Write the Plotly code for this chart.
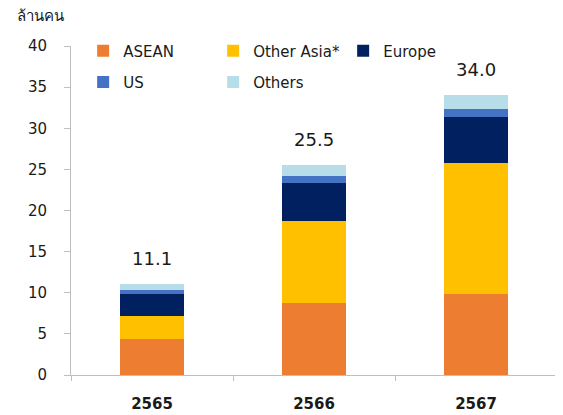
import plotly.graph_objects as go

# Thai-year categories (Buddhist Era)
years = ["2565", "2566", "2567"]

# million visitors by region
asean = [4.4, 8.8, 9.8]
other_asia = [2.8, 9.9, 16.0]
europe = [2.6, 4.6, 5.6]
us = [0.5, 0.85, 0.95]
others = [0.8, 1.35, 1.65]

totals = [11.1, 25.5, 34.0]
total_labels = ["11.1", "25.5", "34.0"]

series = [
    ("ASEAN", asean, "#ED7D31", "legend"),
    ("Other Asia*", other_asia, "#FFC000", "legend"),
    ("Europe", europe, "#002060", "legend"),
    ("US", us, "#4472C4", "legend2"),
    ("Others", others, "#B7DEE8", "legend2"),
]

font_main = "Tahoma, DejaVu Sans, Noto Sans, sans-serif"

fig = go.Figure()
for name, vals, color, leg in series:
    fig.add_trace(
        go.Bar(
            x=years,
            y=vals,
            name=name,
            marker=dict(color=color, line=dict(width=0)),
            legend=leg,
        )
    )

legend_common = dict(
    orientation="h",
    xanchor="left",
    yanchor="middle",
    entrywidth=85,
    bgcolor="rgba(0,0,0,0)",
    font=dict(size=15, color="#1a1a1a", family=font_main),
    traceorder="normal",
)

# page body adds an 8px offset, so margins are set with that in mind
fig.update_layout(
    width=563,
    height=415,
    barmode="stack",
    bargap=0.6,
    plot_bgcolor="white",
    paper_bgcolor="white",
    margin=dict(l=63, r=14, t=38, b=48, autoexpand=False),
    font=dict(family=font_main, color="#1a1a1a"),
    legend=dict(x=0.025, y=0.985, **legend_common),
    legend2=dict(x=0.025, y=0.89, **legend_common),
    xaxis=dict(
        type="category",
        showline=True,
        linecolor="#BFBFBF",
        ticks="outside",
        tickson="boundaries",
        tickcolor="#BFBFBF",
        ticklen=5,
        tickfont=dict(size=15, color="#1a1a1a", weight="bold"),
        ticklabelstandoff=15,
        showgrid=False,
        automargin=False,
    ),
    yaxis=dict(
        range=[0, 40],
        dtick=5,
        showline=True,
        linecolor="#BFBFBF",
        ticks="outside",
        tickcolor="#BFBFBF",
        ticklen=6,
        tickfont=dict(size=15, color="#1a1a1a"),
        ticklabelstandoff=14,
        showgrid=False,
        zeroline=False,
        automargin=False,
    ),
)

# totals on top of each bar (category index, since "2565" would be read as a number)
for i, (tot, lab) in enumerate(zip(totals, total_labels)):
    fig.add_annotation(
        x=i, y=tot, text=lab, showarrow=False,
        yanchor="bottom", yshift=13,
        font=dict(size=18, color="#1a1a1a", family=font_main),
    )

fig.add_annotation(
    text="ล้านคน",
    xref="paper", yref="paper",
    x=-0.115, y=1.095,
    xanchor="left", yanchor="middle",
    showarrow=False,
    font=dict(size=15, color="#1a1a1a", family="Noto Sans, sans-serif"),
)

fig.write_html("out.html")
